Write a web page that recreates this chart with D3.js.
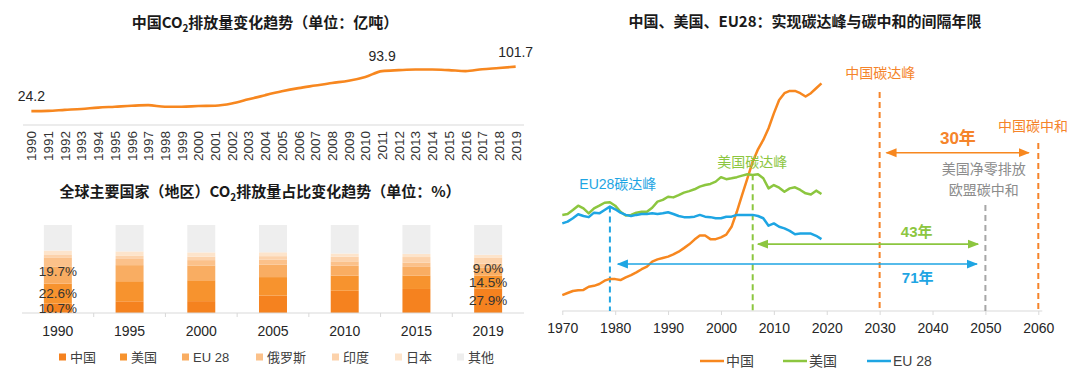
<!DOCTYPE html>
<html>
<head>
<meta charset="utf-8">
<script src="https://cdn.jsdelivr.net/npm/d3@7"></script>
<style>
  body { margin: 0; background: #fff; }
  svg { font-family: "Liberation Sans", Arial, "Noto Sans CJK SC", sans-serif; }
</style>
</head>
<body>
<svg id="chart" width="1080" height="370"></svg>
<script>
// ---- data: China CO2 (亿吨)
var cnYears = [1990,1991,1992,1993,1994,1995,1996,1997,1998,1999,2000,2001,2002,2003,2004,
               2005,2006,2007,2008,2009,2010,2011,2012,2013,2014,2015,2016,2017,2018,2019];
var cnEmission = [24.2,24.6,26.3,27.9,30.2,31.8,33.5,34.6,31.8,31.8,33.0,33.5,37.4,44.7,52.0,
                  58.7,64.2,68.7,73.2,77.1,83.8,93.9,95.5,96.6,96.6,95.5,93.9,97.2,99.3,101.7];
var cnLabelYears = [1990, 2011, 2019];

// ---- data: share of global CO2 (%)
var shareYears = ['1990','1995','2000','2005','2010','2015','2019'];
var shareRegions = ['中国','美国','EU 28','俄罗斯','印度','日本','其他'];
var shareChina  = [10.7,13.3,13.5,19.9,25.3,27.3,27.9];
var shareUS     = [22.6,22.8,23.7,20.9,17.2,15.3,14.5];
var shareEU     = [19.7,18.3,16.8,14.2,11.2,9.8,9.0];
var shareRussia = [10.2,7.0,6.1,5.5,5.0,4.9,4.6];
var shareIndia  = [2.7,3.5,3.9,4.1,5.2,6.3,7.1];
var shareJapan  = [5.1,5.1,4.9,4.4,3.7,3.6,3.1];
var shareOther  = [29.0,30.0,31.1,31.0,32.4,32.8,33.8];
var shareLabelYears = ['1990','2019'];

// ---- data: emissions paths (Gt)
var pathYears = [1970,1971,1972,1973,1974,1975,1976,1977,1978,1979,1980,1981,1982,1983,1984,
                 1985,1986,1987,1988,1989,1990,1991,1992,1993,1994,1995,1996,1997,1998,1999,
                 2000,2001,2002,2003,2004,2005,2006,2007,2008,2009,2010,2011,2012,2013,2014,
                 2015,2016,2017,2018,2019];
var pathChina = [0.71,0.80,0.89,0.92,0.94,1.08,1.12,1.20,1.35,1.43,1.42,1.38,1.50,1.60,1.72,
                 1.86,1.98,2.20,2.30,2.36,2.42,2.52,2.64,2.80,2.97,3.18,3.36,3.36,3.20,3.20,
                 3.28,3.40,3.75,4.42,5.17,5.91,6.65,7.20,7.62,8.14,8.80,9.40,9.70,9.80,9.80,
                 9.70,9.55,9.70,9.92,10.14];
var pathUS = [4.28,4.32,4.50,4.69,4.57,4.35,4.57,4.69,4.82,4.84,4.69,4.42,4.25,4.28,4.38,
              4.42,4.42,4.60,4.87,4.95,5.09,5.06,5.16,5.27,5.34,5.42,5.54,5.61,5.66,5.76,
              5.96,5.87,5.91,5.96,6.03,6.09,6.06,6.09,5.91,5.46,5.61,5.49,5.31,5.46,5.51,
              5.39,5.24,5.19,5.36,5.21];
var pathEU = [3.90,3.98,4.13,4.31,4.23,4.18,4.38,4.35,4.50,4.65,4.53,4.38,4.28,4.23,4.28,
              4.32,4.32,4.35,4.32,4.35,4.40,4.32,4.23,4.18,4.18,4.20,4.28,4.20,4.18,4.13,
              4.13,4.20,4.20,4.28,4.28,4.28,4.28,4.23,4.13,3.80,3.90,3.75,3.68,3.57,3.42,
              3.45,3.45,3.45,3.35,3.20];
var pathNames = ['中国','美国','EU 28'];

// milestone markers (year, top of dashed line in Gt)
var markerYears = [1979, 2006, 2030, 2050, 2060];
var markerTops  = [4.65, 6.09, 9.75, 4.72, 7.48];
var markerColors = ['#1ea5e3','#8cc63f','#f5842a','#a6a6a6','#f5842a'];

var svg = d3.select('#chart');
var orange = '#f7871f', green = '#8cc63f', blue = '#1ea5e3';

function title(x, y, pre, post) {
  var t = svg.append('text').attr('x', x).attr('y', y).attr('text-anchor', 'middle')
    .attr('font-size', 15).attr('font-weight', 'bold').attr('fill', '#1a1a1a')
    .attr('font-family', '"Noto Sans CJK SC", sans-serif');
  t.append('tspan').text(pre + 'CO');
  t.append('tspan').attr('font-size', 10).attr('dy', 4).text('2');
  t.append('tspan').attr('dy', -4).text(post);
}

// ================= top-left: China CO2 line =================
var x1 = d3.scalePoint().domain(cnYears).range([23, 524]).padding(0.5);
var y1 = d3.scaleLinear().domain([0, 120]).range([125, 56.1]);

title(265, 28, '中国', '排放量变化趋势（单位：亿吨）');

svg.append('line').attr('x1', 23).attr('x2', 524).attr('y1', 125).attr('y2', 125)
  .attr('stroke', '#d9d9d9');

svg.append('path').datum(cnEmission)
  .attr('fill', 'none').attr('stroke', orange).attr('stroke-width', 2.6)
  .attr('d', d3.line().x(function(d, i){ return x1(cnYears[i]); }).y(function(d){ return y1(d); })
    .curve(d3.curveMonotoneX));

svg.selectAll('.cn-year').data(cnYears).enter().append('text')
  .attr('class', 'cn-year')
  .attr('transform', function(d){ return 'translate(' + (x1(d) + 5) + ',131) rotate(-90)'; })
  .attr('text-anchor', 'end').attr('font-size', 13.5).attr('fill', '#333')
  .text(function(d){ return d; });

svg.selectAll('.cn-label').data(cnLabelYears).enter().append('text')
  .attr('class', 'cn-label')
  .attr('x', function(d){ return x1(d); })
  .attr('y', function(d){ return y1(cnEmission[cnYears.indexOf(d)]) - 10; })
  .attr('text-anchor', 'middle').attr('font-size', 14).attr('fill', '#262626')
  .text(function(d){ return d3.format('.1f')(cnEmission[cnYears.indexOf(d)]); });

// ================= bottom-left: stacked share bars =================
var shareSeries = [shareChina, shareUS, shareEU, shareRussia, shareIndia, shareJapan, shareOther];
var shareColors = ['#f5821f','#f7932e','#f9ad62','#fbc18a','#fcd2ab','#fde4cb','#eeeeee'];
var shareRows = shareYears.map(function(yr, i){
  var row = { year: yr };
  shareRegions.forEach(function(r, k){ row[r] = shareSeries[k][i]; });
  return row;
});
var stack = d3.stack().keys(shareRegions)(shareRows);

var x2 = d3.scaleBand().domain(shareYears).range([22, 524]).paddingInner(0.61).paddingOuter(0.305);
var y2 = d3.scaleLinear().domain([0, 100]).range([313, 225]);

title(260, 197, '全球主要国家（地区）', '排放量占比变化趋势（单位：%）');

svg.append('g').selectAll('g').data(stack).enter().append('g')
  .attr('fill', function(d, i){ return shareColors[i]; })
  .selectAll('rect').data(function(d){ return d; }).enter().append('rect')
  .attr('x', function(d){ return x2(d.data.year); })
  .attr('width', x2.bandwidth())
  .attr('y', function(d){ return y2(d[1]); })
  .attr('height', function(d){ return y2(d[0]) - y2(d[1]); });

svg.append('line').attr('x1', 22).attr('x2', 524).attr('y1', 313).attr('y2', 313)
  .attr('stroke', '#d9d9d9');
svg.selectAll('.share-tick').data(shareYears.slice(1)).enter().append('line')
  .attr('class', 'share-tick')
  .attr('x1', function(d){ return x2(d) - x2.step() * x2.paddingInner() / 2; })
  .attr('x2', function(d){ return x2(d) - x2.step() * x2.paddingInner() / 2; })
  .attr('y1', 313).attr('y2', 317).attr('stroke', '#d9d9d9');

svg.selectAll('.share-year').data(shareYears).enter().append('text')
  .attr('class', 'share-year')
  .attr('x', function(d){ return x2(d) + x2.bandwidth() / 2; })
  .attr('y', 336).attr('text-anchor', 'middle').attr('font-size', 14).attr('fill', '#262626')
  .text(function(d){ return d; });

// value labels on first three segments for 1990 / 2019
var labelSegs = [];
stack.slice(0, 3).forEach(function(layer, k){
  layer.forEach(function(seg){
    if (shareLabelYears.indexOf(seg.data.year) >= 0) labelSegs.push({ seg: seg, k: k });
  });
});
svg.selectAll('.share-label').data(labelSegs).enter().append('text')
  .attr('class', 'share-label')
  .attr('x', function(d){ return x2(d.seg.data.year) + x2.bandwidth() / 2; })
  .attr('y', function(d){ return y2((d.seg[0] + d.seg[1]) / 2) - (d.k === 2 ? 3.5 : 0); })
  .attr('dy', '0.35em').attr('text-anchor', 'middle').attr('font-size', 13.5).attr('fill', '#333')
  .text(function(d){ return d3.format('.1f')(d.seg[1] - d.seg[0]) + '%'; });

// legend
var legX = [59, 120, 182, 256, 332, 395, 457];
var leg2 = svg.selectAll('.share-leg').data(shareRegions).enter().append('g')
  .attr('class', 'share-leg')
  .attr('transform', function(d, i){ return 'translate(' + legX[i] + ',357)'; });
leg2.append('rect').attr('x', 0).attr('y', -3.5).attr('width', 7).attr('height', 7)
  .attr('fill', function(d, i){ return shareColors[i]; });
leg2.append('text').attr('x', 11).attr('dy', '0.36em').attr('font-size', 13).attr('fill', '#404040')
  .text(function(d){ return d; });

// ================= right: peak to neutrality =================
var x3 = d3.scaleLinear().domain([1970, 2060]).range([562.3, 1038.3]);
var y3 = d3.scaleLinear().domain([0, 11]).range([311, 64]);

svg.append('text').attr('x', 805).attr('y', 27).attr('text-anchor', 'middle')
  .attr('font-size', 15).attr('font-weight', 'bold').attr('fill', '#1a1a1a')
  .attr('font-family', '"Noto Sans CJK SC", sans-serif')
  .text('中国、美国、EU28：实现碳达峰与碳中和的间隔年限');

var xAxis3 = svg.append('g').attr('transform', 'translate(0,311)')
  .call(d3.axisBottom(x3).tickValues([1970,1980,1990,2000,2010,2020,2030,2040,2050,2060])
    .tickFormat(d3.format('d')).tickSizeInner(4).tickSizeOuter(0).tickPadding(8));
xAxis3.select('.domain').attr('stroke', '#d9d9d9').attr('d', 'M' + (x3(1970)) + ',0H' + (x3(2060) + 4));
xAxis3.selectAll('.tick line').attr('stroke', '#d9d9d9');
xAxis3.selectAll('.tick text').attr('font-size', 14).attr('fill', '#262626')
  .attr('font-family', '"Liberation Sans", Arial, sans-serif');

// dashed milestone lines
svg.selectAll('.marker').data(markerYears).enter().append('line')
  .attr('class', 'marker')
  .attr('x1', function(d){ return x3(d); }).attr('x2', function(d){ return x3(d); })
  .attr('y1', function(d, i){ return y3(markerTops[i]); }).attr('y2', y3(0))
  .attr('stroke', function(d, i){ return markerColors[i]; })
  .attr('stroke-width', 2).attr('stroke-dasharray', '6,4');

var line3 = d3.line().x(function(d, i){ return x3(pathYears[i]); }).y(function(d){ return y3(d); });
[pathChina, pathUS, pathEU].forEach(function(series, k){
  svg.append('path').datum(series).attr('fill', 'none')
    .attr('stroke', [orange, green, blue][k]).attr('stroke-width', 2.5)
    .attr('stroke-linejoin', 'round').attr('d', line3);
});

// arrows
var defs = svg.append('defs');
[['arr-o', orange], ['arr-g', green], ['arr-b', blue]].forEach(function(m){
  defs.append('marker').attr('id', m[0]).attr('viewBox', '0 0 10 10').attr('refX', 9).attr('refY', 5)
    .attr('markerWidth', 7).attr('markerHeight', 7).attr('orient', 'auto-start-reverse')
    .append('path').attr('d', 'M0,1L10,5L0,9z').attr('fill', m[1]);
});
var spans = [
  { from: 2031.3, to: 2058.2, at: 7.05, color: orange, id: 'arr-o' },
  { from: 2007.0, to: 2048.6, at: 2.98, color: green, id: 'arr-g' },
  { from: 1980.5, to: 2048.4, at: 2.09, color: blue, id: 'arr-b' }
];
svg.selectAll('.span').data(spans).enter().append('line')
  .attr('class', 'span')
  .attr('x1', function(d){ return x3(d.from); }).attr('x2', function(d){ return x3(d.to); })
  .attr('y1', function(d){ return y3(d.at); }).attr('y2', function(d){ return y3(d.at); })
  .attr('stroke', function(d){ return d.color; }).attr('stroke-width', 1.6)
  .attr('marker-start', function(d){ return 'url(#' + d.id + ')'; })
  .attr('marker-end', function(d){ return 'url(#' + d.id + ')'; });

// annotations
var notes = [
  { t: '中国碳达峰', yr: 2030.1, v: 10.6, c: '#f5842a', s: 14, w: 'normal' },
  { t: '中国碳中和', yr: 2059.0, v: 8.24, c: '#f5842a', s: 14, w: 'normal' },
  { t: '30年', yr: 2044.8, v: 7.70, c: '#f5842a', s: 17, w: 'bold' },
  { t: '美国净零排放', yr: 2049.7, v: 6.33, c: '#8c8c8c', s: 14, w: 'normal' },
  { t: '欧盟碳中和', yr: 2049.7, v: 5.39, c: '#8c8c8c', s: 14, w: 'normal' },
  { t: '美国碳达峰', yr: 2005.9, v: 6.65, c: green, s: 14, w: 'normal' },
  { t: 'EU28碳达峰', yr: 1980.5, v: 5.66, c: blue, s: 14, w: 'normal' },
  { t: '43年', yr: 2037.0, v: 3.52, c: green, s: 15, w: 'bold' },
  { t: '71年', yr: 2037.2, v: 1.47, c: blue, s: 15, w: 'bold' }
];
svg.selectAll('.note').data(notes).enter().append('text')
  .attr('class', 'note')
  .attr('x', function(d){ return x3(d.yr); }).attr('y', function(d){ return y3(d.v); })
  .attr('dy', '0.35em').attr('text-anchor', 'middle')
  .attr('font-size', function(d){ return d.s; }).attr('font-weight', function(d){ return d.w; })
  .attr('fill', function(d){ return d.c; })
  .text(function(d){ return d.t; });

// legend
var leg3X = [700, 783, 867];
var leg3 = svg.selectAll('.path-leg').data(pathNames).enter().append('g')
  .attr('class', 'path-leg')
  .attr('transform', function(d, i){ return 'translate(' + leg3X[i] + ',361)'; });
leg3.append('line').attr('x1', 0).attr('x2', 24).attr('stroke-width', 2.5)
  .attr('stroke', function(d, i){ return [orange, green, blue][i]; });
leg3.append('text').attr('x', 26).attr('dy', '0.36em').attr('font-size', 14).attr('fill', '#404040')
  .text(function(d){ return d; });
</script>
</body>
</html>
